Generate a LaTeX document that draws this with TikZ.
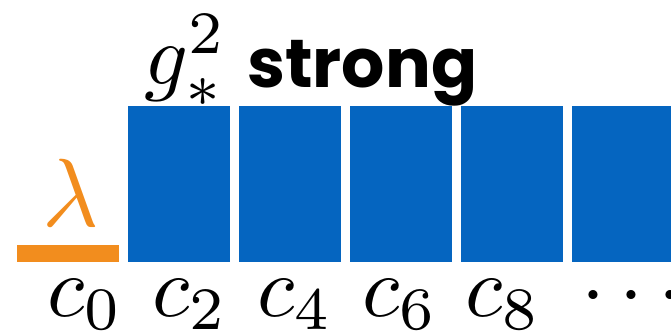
\documentclass[tikz,border=0pt]{standalone}
\usepackage{fontspec}
\newfontfamily\handfont{Poppins}
\definecolor{boxblue}{RGB}{5,101,192}
\definecolor{lamorange}{RGB}{242,141,30}

\begin{document}
\begin{tikzpicture}[x=1pt, y=1pt, big/.style={scale=8.6, inner sep=0}]
  \useasboundingbox (0,0) rectangle (671,336);
  \clip (0,0) rectangle (671,336);
  % orange bar for lambda
  \coordinate (L0) at (17,74);
  \coordinate (L1) at (119,91);
  \fill[lamorange] (L0) rectangle (L1);
  \node[lamorange, scale=9.7, inner sep=0, anchor=base] (lam) at (71,109) {$\lambda$};
  % blue boxes, the last one runs off the edge
  \foreach \i in {0,...,4} \fill[boxblue] (128.4+110.8*\i,74) rectangle ++(102,156);
  % labels above the boxes
  \node[big, anchor=base west] (gs) at (143,251) {$g_*^2$};
  \node[inner sep=0, anchor=base west] (strong) at (247,248) {\fontsize{68}{74}\selectfont\handfont\bfseries strong};
  % c labels underneath
  \foreach \n/\x in {0/46, 2/151, 4/256, 6/361, 8/464} \node[big, anchor=base west] (c\n) at (\x,19.5) {$c_{\n}$};
  \node[big, anchor=base west] (dots) at (580,19.5) {$\cdots$};
\end{tikzpicture}
\end{document}
